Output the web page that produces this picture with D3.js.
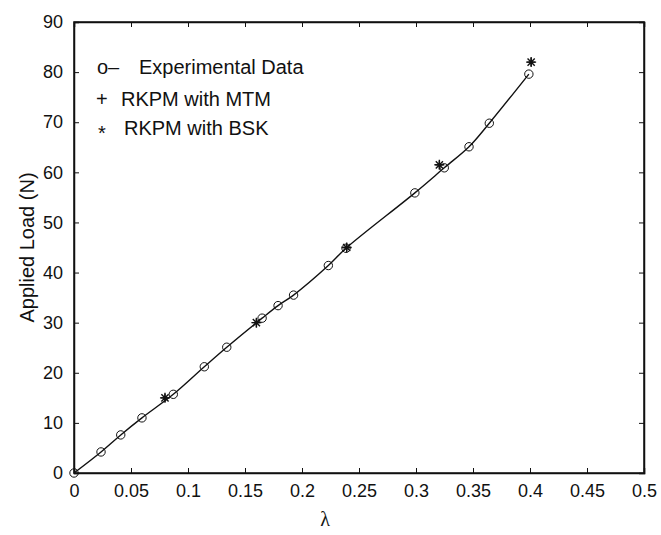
<!DOCTYPE html>
<html>
<head>
<meta charset="utf-8">
<script src="https://cdn.jsdelivr.net/npm/d3@7"></script>
<style>
  body { margin: 0; background: #fff; }
  text { font-family: "Liberation Sans", Arial, sans-serif; fill: #111; }
</style>
</head>
<body>
<svg id="chart"></svg>
<script>
const w = 661;
const h = 535;
const margin = {top: 22, right: 17, bottom: 62, left: 74};

// experimental data (o-)
const expLambda = [0, 0.0237, 0.041, 0.0596, 0.0871, 0.1143, 0.134, 0.165, 0.179, 0.1926, 0.2231, 0.2386, 0.299, 0.3248, 0.3465, 0.3643, 0.399];
const expLoad   = [0, 4.2, 7.6, 11.0, 15.7, 21.2, 25.1, 30.9, 33.4, 35.5, 41.4, 44.85, 55.9, 60.9, 65.1, 69.8, 79.6];

// RKPM with MTM (+), hidden under the stars
const mtmLambda = [0.0798, 0.160, 0.2392, 0.3205, 0.401];
const mtmLoad   = [15.0, 30.0, 45.0, 61.5, 82.0];

// RKPM with BSK (*)
const bskLambda = [0.0798, 0.160, 0.2392, 0.3205, 0.401];
const bskLoad   = [15.0, 30.0, 45.0, 61.5, 82.0];

const xTicks = [0, 0.05, 0.1, 0.15, 0.2, 0.25, 0.3, 0.35, 0.4, 0.45, 0.5];
const yTicks = [0, 10, 20, 30, 40, 50, 60, 70, 80, 90];

var chart = d3.select("#chart")
  .attr("width", w)
  .attr("height", h);

const xScale = d3.scaleLinear().domain([0, 0.5]).range([margin.left, w - margin.right]);
const yScale = d3.scaleLinear().domain([0, 90]).range([h - margin.bottom, margin.top]);

const tick = 5;
const x0 = xScale(0), x1 = xScale(0.5), y0 = yScale(0), y1 = yScale(90);

// bottom axis, inward ticks
const xAxis = chart.append("g")
  .attr("transform", `translate(0, ${y0})`)
  .call(d3.axisBottom(xScale).tickValues(xTicks).tickSize(-tick).tickPadding(11).tickFormat(d => d));
xAxis.selectAll("text").style("font-size", "18px");

// top ticks
chart.append("g")
  .attr("transform", `translate(0, ${y1})`)
  .call(d3.axisTop(xScale).tickValues(xTicks).tickSize(-tick).tickFormat(""));

const yAxis = chart.append("g")
  .attr("transform", `translate(${x0}, 0)`)
  .call(d3.axisLeft(yScale).tickValues(yTicks).tickSize(-tick).tickPadding(11));
yAxis.selectAll("text").style("font-size", "18px");

chart.append("g")
  .attr("transform", `translate(${x1}, 0)`)
  .call(d3.axisRight(yScale).tickValues(yTicks).tickSize(-tick).tickFormat(""));

chart.selectAll(".domain").attr("stroke", "#111").attr("stroke-width", 1.5);
chart.selectAll(".tick line").attr("stroke", "#111");

// box
chart.append("rect")
  .attr("x", x0).attr("y", y1)
  .attr("width", x1 - x0).attr("height", y0 - y1)
  .attr("fill", "none").attr("stroke", "#111").attr("stroke-width", 1.5);

// experimental curve
const expData = expLambda.map((d, i) => ({x: d, y: expLoad[i]}));
chart.append("path")
  .datum(expData)
  .attr("fill", "none")
  .attr("stroke", "#111")
  .attr("stroke-width", 1.4)
  .attr("d", d3.line().x(d => xScale(d.x)).y(d => yScale(d.y)).curve(d3.curveCatmullRom));

chart.append("g").selectAll("circle")
  .data(expData)
  .join("circle")
  .attr("cx", d => xScale(d.x))
  .attr("cy", d => yScale(d.y))
  .attr("r", 4.2)
  .attr("fill", "none")
  .attr("stroke", "#111")
  .attr("stroke-width", 1);

function plusPath(cx, cy, s) {
  return `M${cx - s},${cy}H${cx + s}M${cx},${cy - s}V${cy + s}`;
}
function starPath(cx, cy, s) {
  const d = s * 0.72;
  return plusPath(cx, cy, s) + `M${cx - d},${cy - d}L${cx + d},${cy + d}M${cx - d},${cy + d}L${cx + d},${cy - d}`;
}

chart.append("g").selectAll("path")
  .data(mtmLambda.map((d, i) => ({x: d, y: mtmLoad[i]})))
  .join("path")
  .attr("d", d => plusPath(xScale(d.x), yScale(d.y), 4))
  .attr("stroke", "#111").attr("stroke-width", 1.3);

chart.append("g").selectAll("path")
  .data(bskLambda.map((d, i) => ({x: d, y: bskLoad[i]})))
  .join("path")
  .attr("d", d => starPath(xScale(d.x), yScale(d.y), 5))
  .attr("stroke", "#111").attr("stroke-width", 1.4);

// legend
const legend = chart.append("g").style("font-size", "20px");
legend.append("text").attr("x", 97).attr("y", 74).text("o–");
legend.append("text").attr("x", 139).attr("y", 74).text("Experimental Data");
legend.append("text").attr("x", 96).attr("y", 106).text("+");
legend.append("text").attr("x", 121).attr("y", 106).text("RKPM with MTM");
legend.append("text").attr("x", 98).attr("y", 140).text("*");
legend.append("text").attr("x", 124).attr("y", 135).text("RKPM with BSK");

// axis titles
chart.append("text")
  .attr("x", 325).attr("y", 526)
  .attr("text-anchor", "middle")
  .style("font-family", "'Liberation Serif', 'Times New Roman', serif")
  .style("font-size", "20px")
  .text("λ");

chart.append("text")
  .attr("transform", `translate(34, ${(y0 + y1) / 2}) rotate(-90)`)
  .attr("text-anchor", "middle")
  .style("font-size", "20px")
  .text("Applied Load (N)");
</script>
</body>
</html>
